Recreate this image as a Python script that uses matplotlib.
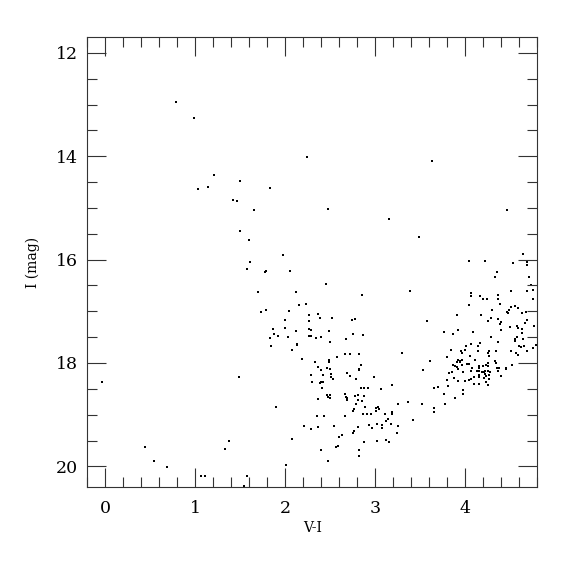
import matplotlib
matplotlib.use("Agg")
import matplotlib.pyplot as plt
from matplotlib.ticker import MultipleLocator

# colour index (V-I) and I magnitude, read off the reference CMD
# sparse blue / bright stars
blue_vi = [0.78, 0.98, 1.21, 1.14, 1.03, 1.42, 1.46, 1.50, 1.83, 2.24,
           1.65, 2.47, 3.15, 3.49, 1.50, 1.60, 1.97, 1.61, 1.58, 1.78,
           1.79, 2.05, 3.63, 4.47,
           -0.04, 0.44, 0.54, 0.69, 1.06, 1.11, 1.33, 1.37, 1.49, 1.57,
           1.54, 2.01, 2.47]
blue_i = [12.96, 13.26, 14.37, 14.60, 14.64, 14.84, 14.86, 14.47, 14.62, 14.02,
          15.04, 15.02, 15.21, 15.56, 15.44, 15.63, 15.91, 16.04, 16.18, 16.24,
          16.22, 16.22, 14.09, 15.04,
          18.36, 19.63, 19.90, 20.01, 20.18, 20.18, 19.67, 19.51, 18.27, 20.18,
          20.38, 19.98, 19.89]

# middle clump (V-I ~ 1.7 - 3.1)
mid_vi = [2.45, 1.70, 2.12, 2.85, 2.15, 2.23, 1.73, 1.79, 2.04, 2.26,
          2.36, 2.39, 2.52, 2.00, 2.26, 2.74, 2.78, 1.86, 2.00, 2.12,
          2.26, 2.29, 2.49, 1.88, 1.83, 1.92, 2.03, 2.26, 2.29, 2.34,
          2.40, 2.75, 2.87, 2.68, 2.50, 2.13, 2.13, 1.84, 2.08, 2.67,
          2.72, 2.82, 2.19, 2.33, 2.49, 2.49, 2.57, 2.36, 2.46, 2.50,
          2.84, 2.82, 2.82, 2.40, 2.42, 2.51, 2.51, 2.53, 2.69, 2.72,
          2.29, 2.99, 2.79, 2.30, 2.40, 2.42, 2.39, 2.41, 2.84, 2.88,
          2.92, 2.46, 2.50, 2.47, 2.50, 2.67, 2.68, 2.69, 2.69, 2.81,
          2.78, 2.88, 2.36, 2.81, 2.85, 2.79, 1.90, 2.89, 2.76, 2.75,
          3.01, 3.03, 3.04, 3.01, 2.87, 2.91, 2.95, 2.35, 2.43, 2.67,
          2.21, 2.29, 2.36, 2.54, 2.81, 2.93, 2.96, 3.02, 2.76, 2.75,
          2.63, 2.60, 2.07, 2.88, 3.02, 2.59, 2.56, 2.40, 2.82, 2.82]
mid_i = [16.47, 16.62, 16.63, 16.69, 16.87, 16.86, 17.01, 16.97, 17.00, 17.07,
         17.06, 17.12, 17.12, 17.16, 17.19, 17.16, 17.15, 17.35, 17.33, 17.38,
         17.35, 17.37, 17.39, 17.44, 17.51, 17.47, 17.49, 17.47, 17.47, 17.52,
         17.49, 17.44, 17.45, 17.54, 17.59, 17.63, 17.66, 17.68, 17.74, 17.82,
         17.83, 17.82, 17.93, 17.98, 17.95, 17.98, 17.89, 18.07, 18.10, 18.11,
         18.04, 18.12, 18.13, 18.14, 18.23, 18.22, 18.28, 18.31, 18.20, 18.26,
         18.24, 18.28, 18.31, 18.37, 18.37, 18.36, 18.39, 18.49, 18.48, 18.49,
         18.49, 18.61, 18.62, 18.66, 18.67, 18.60, 18.65, 18.68, 18.71, 18.62,
         18.63, 18.63, 18.69, 18.72, 18.73, 18.79, 18.86, 18.86, 18.89, 18.93,
         18.87, 18.86, 18.89, 18.92, 18.98, 18.99, 18.98, 19.02, 19.03, 19.03,
         19.21, 19.27, 19.24, 19.21, 19.23, 19.20, 19.25, 19.19, 19.32, 19.36,
         19.39, 19.43, 19.48, 19.53, 19.50, 19.60, 19.62, 19.69, 19.69, 19.80]

# red branch (V-I ~ 3.0 - 4.8)
red_vi = [4.73, 3.39, 4.07, 4.06, 4.17, 4.20, 4.24, 4.37, 4.37, 4.51,
          4.69, 4.76, 4.75, 4.04, 4.39, 4.51, 4.56, 4.59, 4.49, 4.47,
          4.48, 4.63, 4.68, 4.30, 3.91, 4.18, 4.29, 3.58, 4.25, 4.37,
          4.40, 4.39, 4.69, 4.67, 4.50, 4.58, 4.59, 4.77, 4.40, 4.09,
          3.92, 3.77, 3.86, 4.63, 4.63, 4.55, 4.55, 4.64, 4.58, 4.29,
          4.17, 4.14, 4.06, 4.01, 4.00, 3.95, 3.96, 3.84, 4.05, 4.14,
          4.27, 4.26, 4.27, 4.37, 4.34, 4.51, 4.60, 4.62, 4.65, 4.69,
          4.75, 4.79, 4.57, 4.59, 3.80, 3.92, 3.94, 3.94, 3.97, 3.91,
          3.86, 3.89, 3.96, 4.02, 4.04, 4.11, 4.15, 4.16, 4.20, 4.23,
          4.25, 4.25, 4.33, 4.34, 4.35, 4.38, 4.37, 4.45, 4.46, 4.52,
          3.61, 3.53, 3.30, 3.06, 3.19, 3.85, 3.82, 3.91, 3.92, 3.98,
          4.08, 4.07, 4.13, 4.16, 4.19, 4.21, 4.22, 4.22, 4.25, 4.27,
          4.23, 4.28, 4.40, 3.88, 3.92, 4.00, 4.04, 4.07, 4.10, 4.16,
          4.16, 4.21, 4.27, 3.80, 4.10, 4.15, 4.23, 4.25, 3.65, 3.70,
          3.81, 3.98, 3.98, 3.77, 3.89, 3.78, 3.36, 3.25, 3.52, 3.65,
          3.65, 3.11, 3.19, 3.19, 3.14, 3.12, 3.08, 3.08, 3.18, 3.25,
          3.42, 3.24, 3.12, 3.15,
          4.04, 4.22, 4.53, 4.64, 4.69, 4.69, 4.35, 4.33, 4.71]
red_i = [16.49, 16.60, 16.65, 16.70, 16.71, 16.77, 16.76, 16.68, 16.77, 16.60,
         16.60, 16.59, 16.77, 16.88, 16.85, 16.91, 16.89, 16.93, 16.98, 17.01,
         17.04, 17.03, 17.01, 16.98, 17.08, 17.08, 17.12, 17.18, 17.19, 17.15,
         17.20, 17.24, 17.16, 17.22, 17.31, 17.28, 17.32, 17.29, 17.37, 17.40,
         17.37, 17.40, 17.44, 17.35, 17.42, 17.53, 17.58, 17.53, 17.49, 17.49,
         17.62, 17.68, 17.64, 17.68, 17.75, 17.77, 17.80, 17.75, 17.87, 17.77,
         17.76, 17.80, 17.87, 17.59, 17.77, 17.76, 17.68, 17.69, 17.68, 17.76,
         17.71, 17.65, 17.80, 17.84, 17.88, 17.95, 17.96, 17.98, 17.94, 17.99,
         18.03, 18.05, 18.03, 18.01, 18.01, 17.95, 18.05, 18.09, 18.05, 18.04,
         18.00, 18.05, 17.96, 18.00, 18.10, 18.09, 18.15, 18.10, 18.12, 18.04,
         17.96, 18.13, 17.81, 18.51, 18.42, 18.17, 18.20, 18.08, 18.12, 18.18,
         18.10, 18.15, 18.16, 18.16, 18.18, 18.18, 18.22, 18.15, 18.15, 18.23,
         18.26, 18.18, 18.25, 18.29, 18.34, 18.34, 18.33, 18.31, 18.28, 18.28,
         18.24, 18.29, 18.31, 18.32, 18.40, 18.41, 18.36, 18.43, 18.49, 18.46,
         18.44, 18.53, 18.60, 18.60, 18.67, 18.79, 18.76, 18.80, 18.80, 18.88,
         18.95, 18.98, 18.95, 18.99, 19.09, 19.13, 19.20, 19.25, 19.18, 19.21,
         19.11, 19.35, 19.49, 19.52,
         16.02, 16.02, 16.06, 15.89, 16.05, 16.10, 16.24, 16.33, 16.33]

plt.rcParams["font.family"] = "DejaVu Serif"

fig = plt.figure(figsize=(5.75, 5.75), dpi=100)
ax = fig.add_axes([0.152, 0.153, 0.782, 0.782])

for vi, mag in [(blue_vi, blue_i), (mid_vi, mid_i), (red_vi, red_i)]:
    ax.scatter(vi, mag, s=3.5, marker="s", c="black", linewidths=0)

ax.set_xlim(-0.2, 4.8)
ax.set_ylim(20.4, 11.7)

ax.xaxis.set_major_locator(MultipleLocator(1))
ax.xaxis.set_minor_locator(MultipleLocator(0.2))
ax.yaxis.set_major_locator(MultipleLocator(2))
ax.yaxis.set_minor_locator(MultipleLocator(0.5))

ax.tick_params(which="both", direction="in", top=True, right=True,
               width=0.8, color="#333333")
ax.tick_params(which="major", length=13.5, labelsize=12.5)
ax.tick_params(which="minor", length=7)
ax.tick_params(axis="x", which="major", pad=9.5)
ax.tick_params(axis="y", which="major", pad=7)
for sp in ax.spines.values():
    sp.set_linewidth(0.8)
    sp.set_color("#333333")

ax.set_xlabel("V-I", fontsize=10, labelpad=3)
ax.set_ylabel("I (mag)", fontsize=10, labelpad=11)

fig.savefig("out.png", dpi=100)
